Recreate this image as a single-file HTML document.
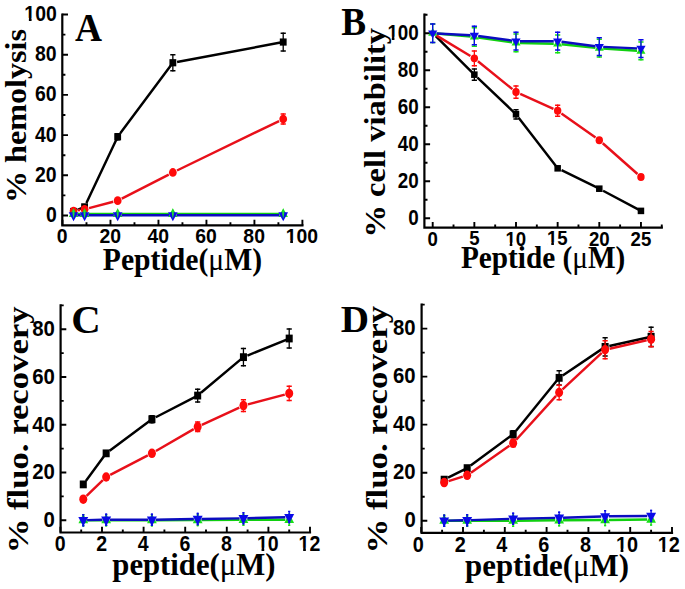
<!DOCTYPE html><html><head><meta charset="utf-8"><style>html,body{margin:0;padding:0;background:#fff;}svg{display:block}</style></head><body>
<svg width="685" height="589" viewBox="0 0 685 589" font-family="'Liberation Sans', sans-serif" font-weight="bold">
<rect width="685" height="589" fill="#fff"/>
<path d="M62.3 14.5V225.4H302.4" fill="none" stroke="#000" stroke-width="2.2" stroke-linejoin="miter" stroke-linecap="square"/>
<path d="M62.3 215.5h5.7M62.3 175.3h5.7M62.3 135.1h5.7M62.3 94.9h5.7M62.3 54.7h5.7M62.3 14.5h5.7M62.3 195.4h3.1M62.3 155.2h3.1M62.3 115h3.1M62.3 74.8h3.1M62.3 34.6h3.1M62.5 225.4v-5.7M110.48 225.4v-5.7M158.46 225.4v-5.7M206.44 225.4v-5.7M254.42 225.4v-5.7M302.4 225.4v-5.7M86.49 225.4v-3.1M134.47 225.4v-3.1M182.45 225.4v-3.1M230.43 225.4v-3.1M278.41 225.4v-3.1" stroke="#000" stroke-width="1.9" fill="none"/>
<text transform="translate(45.9,222) scale(0.8950,1)" font-size="21.7">0</text>
<text transform="translate(35.02,181.8) scale(0.8950,1)" font-size="21.7">20</text>
<text transform="translate(35.02,141.6) scale(0.8950,1)" font-size="21.7">40</text>
<text transform="translate(35.02,101.4) scale(0.8950,1)" font-size="21.7">60</text>
<text transform="translate(35.02,61.2) scale(0.8950,1)" font-size="21.7">80</text>
<text transform="translate(24.34,21) scale(0.8950,1)" font-size="21.7">100</text>
<g transform="translate(24.34,21) scale(0.8950,1)" fill="#fff"><rect x="0.37" y="-3.11" width="4.70" height="4.11"/><rect x="8.09" y="-3.11" width="4.42" height="4.11"/></g>
<text transform="translate(56.76,243.37) scale(0.9200,1)" font-size="21.1">0</text>
<text transform="translate(99.41,243.37) scale(0.9200,1)" font-size="21.1">20</text>
<text transform="translate(147.58,243.37) scale(0.9200,1)" font-size="21.1">40</text>
<text transform="translate(195.27,243.37) scale(0.9200,1)" font-size="21.1">60</text>
<text transform="translate(243.35,243.37) scale(0.9200,1)" font-size="21.1">80</text>
<text transform="translate(285.7,243.37) scale(0.9200,1)" font-size="21.1">100</text>
<g transform="translate(285.7,243.37) scale(0.9200,1)" fill="#fff"><rect x="0.33" y="-3.05" width="4.60" height="4.05"/><rect x="7.87" y="-3.05" width="4.33" height="4.05"/></g>
<path d="M77.5 209.82L84.57 206.86M86.41 202.97L117.68 136.71M120.25 133.26L172.85 62.74M177.08 61.95L283.21 42.04" fill="none" stroke="#000000" stroke-width="2.45" stroke-linecap="butt"/>
<path d="M73.54 209.78V213.19M84.57 204.15V209.57M117.68 132.99V140.42M172.85 54V71.48M283.21 32.49V51.58" stroke="#000000" stroke-width="1.3" fill="none"/>
<path d="M70.94 210.47h5.2M70.94 212.49h5.2M81.97 204.85h5.2M81.97 208.87h5.2M115.08 133.69h5.2M115.08 139.72h5.2M170.25 54.7h5.2M170.25 70.78h5.2M280.61 33.19h5.2M280.61 50.88h5.2" stroke="#000000" stroke-width="1.5" fill="none"/>
<rect x="70.12" y="207.89" width="6.83" height="7.18" fill="#000000"/>
<rect x="81.16" y="203.27" width="6.83" height="7.18" fill="#000000"/>
<rect x="114.26" y="133.12" width="6.83" height="7.18" fill="#000000"/>
<rect x="169.44" y="59.15" width="6.83" height="7.18" fill="#000000"/>
<rect x="279.8" y="38.45" width="6.83" height="7.18" fill="#000000"/>
<path d="M78.07 210.33L80.03 210.01M89.02 208.11L113.23 201.79M121.77 198.54L168.76 174.58M176.99 170.48L279.07 121.03" fill="none" stroke="#e8101a" stroke-width="2.45" stroke-linecap="butt"/>
<path d="M73.54 209.37V212.78M84.57 207.56V210.97M117.68 198.92V202.33M172.85 170.18V174.79M283.21 113.3V124.75" stroke="#ff0a0a" stroke-width="1.3" fill="none"/>
<path d="M70.94 210.07h5.2M70.94 212.08h5.2M81.97 208.26h5.2M81.97 210.27h5.2M115.08 199.62h5.2M115.08 201.63h5.2M170.25 170.88h5.2M170.25 174.09h5.2M280.61 114h5.2M280.61 124.05h5.2" stroke="#ff0a0a" stroke-width="1.5" fill="none"/>
<ellipse cx="73.54" cy="211.08" rx="3.89" ry="4.37" fill="#ff0a0a"/>
<ellipse cx="84.57" cy="209.27" rx="3.89" ry="4.37" fill="#ff0a0a"/>
<ellipse cx="117.68" cy="200.63" rx="3.89" ry="4.37" fill="#ff0a0a"/>
<ellipse cx="172.85" cy="172.49" rx="3.89" ry="4.37" fill="#ff0a0a"/>
<ellipse cx="283.21" cy="119.02" rx="3.89" ry="4.37" fill="#ff0a0a"/>
<path d="M77.44 213.99L80.67 213.99M88.47 213.99L113.78 213.99M121.58 213.99L168.95 213.99M176.75 213.99L279.31 213.99" fill="none" stroke="#10d010" stroke-width="2.45" stroke-linecap="butt"/>
<path d="M68.81 216.9H78.26L73.54 208.17Z" fill="#18e018"/>
<path d="M79.85 216.9H89.3L84.57 208.17Z" fill="#18e018"/>
<path d="M112.95 216.9H122.4L117.68 208.17Z" fill="#18e018"/>
<path d="M168.13 216.9H177.58L172.85 208.17Z" fill="#18e018"/>
<path d="M278.48 216.9H287.93L283.21 208.17Z" fill="#18e018"/>
<path d="M77.44 215.3L80.67 215.3M88.47 215.3L113.78 215.3M121.58 215.3L168.95 215.3M176.75 215.3L279.31 215.3" fill="none" stroke="#0c0cc0" stroke-width="2.45" stroke-linecap="butt"/>
<path d="M73.54 214V216.6M84.57 214V216.6M117.68 214V216.6M172.85 214V216.6M283.21 214V216.6" stroke="#0a0ae8" stroke-width="1.3" fill="none"/>
<path d="M72.54 214.7h2M72.54 215.9h2M83.57 214.7h2M83.57 215.9h2M116.68 214.7h2M116.68 215.9h2M171.85 214.7h2M171.85 215.9h2M282.21 214.7h2M282.21 215.9h2" stroke="#0a0ae8" stroke-width="1.5" fill="none"/>
<path d="M68.71 212.35H78.37L73.54 221.19Z" fill="#0a0ae8"/>
<path d="M79.74 212.35H89.4L84.57 221.19Z" fill="#0a0ae8"/>
<path d="M112.85 212.35H122.51L117.68 221.19Z" fill="#0a0ae8"/>
<path d="M168.02 212.35H177.68L172.85 221.19Z" fill="#0a0ae8"/>
<path d="M278.38 212.35H288.04L283.21 221.19Z" fill="#0a0ae8"/>
<path d="M73.54 208.3L74.59 213.8L73.54 218.8L72.49 213.8ZM84.57 208.3L85.62 213.8L84.57 218.8L83.52 213.8ZM117.68 208.3L118.73 213.8L117.68 218.8L116.63 213.8ZM172.85 208.3L173.9 213.8L172.85 218.8L171.8 213.8ZM283.21 208.3L284.26 213.8L283.21 218.8L282.16 213.8Z" fill="#22dd33"/>
<text transform="translate(74.93,40.7) scale(0.9584,1)" font-family='"Liberation Serif", serif' font-weight="bold" font-size="39.09" fill="#000">A</text>
<text transform="translate(26.3,203.12) rotate(-90) scale(1.0825,1)" font-family='"Liberation Serif", serif' font-weight="bold" font-size="29.7" fill="#000">% hemolysis</text>
<text transform="translate(102.81,269.6) scale(0.9186,1)" font-family='"Liberation Serif", serif' font-weight="bold" font-size="32.31">Peptide(<tspan font-weight="normal">μ</tspan>M)</text>
<path d="M424.4 14.69V227.7H661.77" fill="none" stroke="#000" stroke-width="2.2" stroke-linejoin="miter" stroke-linecap="square"/>
<path d="M424.4 218.3h5.7M424.4 181.28h5.7M424.4 144.26h5.7M424.4 107.24h5.7M424.4 70.22h5.7M424.4 33.2h5.7M424.4 199.79h3.1M424.4 162.77h3.1M424.4 125.75h3.1M424.4 88.73h3.1M424.4 51.71h3.1M424.4 14.69h3.1M432.7 227.7v-5.7M474.35 227.7v-5.7M516 227.7v-5.7M557.65 227.7v-5.7M599.3 227.7v-5.7M640.95 227.7v-5.7M453.52 227.7v-3.1M495.18 227.7v-3.1M536.83 227.7v-3.1M578.48 227.7v-3.1M620.12 227.7v-3.1M661.77 227.7v-3.1" stroke="#000" stroke-width="1.9" fill="none"/>
<text transform="translate(408.31,224.97) scale(0.8600,1)" font-size="21.9">0</text>
<text transform="translate(397.76,187.95) scale(0.8600,1)" font-size="21.9">20</text>
<text transform="translate(397.76,150.93) scale(0.8600,1)" font-size="21.9">40</text>
<text transform="translate(397.76,113.91) scale(0.8600,1)" font-size="21.9">60</text>
<text transform="translate(397.76,76.89) scale(0.8600,1)" font-size="21.9">80</text>
<text transform="translate(387.4,39.87) scale(0.8600,1)" font-size="21.9">100</text>
<g transform="translate(387.4,39.87) scale(0.8600,1)" fill="#fff"><rect x="0.38" y="-3.13" width="4.73" height="4.13"/><rect x="8.17" y="-3.13" width="4.45" height="4.13"/></g>
<text transform="translate(427.48,245.59) scale(0.9000,1)" font-size="20.7">0</text>
<text transform="translate(469.13,245.38) scale(0.9000,1)" font-size="20.7">5</text>
<text transform="translate(505.38,245.59) scale(0.9000,1)" font-size="20.7">10</text>
<g transform="translate(505.38,245.59) scale(0.9000,1)" fill="#fff"><rect x="0.30" y="-3.01" width="4.53" height="4.01"/><rect x="7.72" y="-3.01" width="4.26" height="4.01"/></g>
<text transform="translate(546.94,245.38) scale(0.9000,1)" font-size="20.7">15</text>
<g transform="translate(546.94,245.38) scale(0.9000,1)" fill="#fff"><rect x="0.30" y="-3.01" width="4.53" height="4.01"/><rect x="7.72" y="-3.01" width="4.26" height="4.01"/></g>
<text transform="translate(588.96,245.59) scale(0.9000,1)" font-size="20.7">20</text>
<text transform="translate(630.52,245.59) scale(0.9000,1)" font-size="20.7">25</text>
<path d="M435.75 36.23L474.35 74.66M477.47 77.63L516 114.27M518.62 117.68L557.65 168.32M561.51 170.21L599.3 188.68M603.09 190.71L640.95 210.9" fill="none" stroke="#000000" stroke-width="2.45" stroke-linecap="butt"/>
<path d="M474.35 68.41V80.92M516 108.95V119.6M557.65 165.77V170.87M599.3 186.13V191.24M640.95 208.35V213.45" stroke="#000000" stroke-width="1.3" fill="none"/>
<path d="M471.75 69.11h5.2M471.75 80.22h5.2M513.4 109.65h5.2M513.4 118.9h5.2M555.05 166.47h5.2M555.05 170.17h5.2M596.7 186.83h5.2M596.7 190.54h5.2M638.35 209.05h5.2M638.35 212.75h5.2" stroke="#000000" stroke-width="1.5" fill="none"/>
<rect x="471.1" y="71.38" width="6.5" height="6.55" fill="#000000"/>
<rect x="512.75" y="111" width="6.5" height="6.55" fill="#000000"/>
<rect x="554.4" y="165.05" width="6.5" height="6.55" fill="#000000"/>
<rect x="596.05" y="185.41" width="6.5" height="6.55" fill="#000000"/>
<rect x="637.7" y="207.62" width="6.5" height="6.55" fill="#000000"/>
<path d="M436.64 35.58L470.41 55.99M477.93 61.27L512.42 89.17M520.2 93.95L553.45 108.87M561.41 113.41L595.54 137.53M602.75 143.24L637.5 173.98" fill="none" stroke="#e8101a" stroke-width="2.45" stroke-linecap="butt"/>
<path d="M474.35 50.27V66.48M516 85.25V98.87M557.65 104.5V117.01M599.3 137.64V142.74M640.95 174.47V179.57" stroke="#ff0a0a" stroke-width="1.3" fill="none"/>
<path d="M471.75 50.97h5.2M471.75 65.78h5.2M513.4 85.95h5.2M513.4 98.17h5.2M555.05 105.2h5.2M555.05 116.31h5.2M596.7 138.34h5.2M596.7 142.04h5.2M638.35 175.17h5.2M638.35 178.87h5.2" stroke="#ff0a0a" stroke-width="1.5" fill="none"/>
<ellipse cx="474.35" cy="58.37" rx="3.7" ry="3.99" fill="#ff0a0a"/>
<ellipse cx="516" cy="92.06" rx="3.7" ry="3.99" fill="#ff0a0a"/>
<ellipse cx="557.65" cy="110.76" rx="3.7" ry="3.99" fill="#ff0a0a"/>
<ellipse cx="599.3" cy="140.19" rx="3.7" ry="3.99" fill="#ff0a0a"/>
<ellipse cx="640.95" cy="177.02" rx="3.7" ry="3.99" fill="#ff0a0a"/>
<path d="M436.58 33.55L470.47 36.56M478.21 37.45L512.14 42.28M519.9 42.93L553.75 43.83M561.53 44.33L595.42 47.8M603.19 48.45L637.06 50.71" fill="none" stroke="#10d010" stroke-width="2.45" stroke-linecap="butt"/>
<path d="M432.7 23.25V43.16M474.35 26.95V46.86M516 33.24V52.41M557.65 34.35V53.52M599.3 38.61V57.78M640.95 41.38V60.55" stroke="#18e018" stroke-width="1.3" fill="none"/>
<path d="M430.1 23.95h5.2M430.1 42.46h5.2M471.75 27.65h5.2M471.75 46.16h5.2M513.4 33.94h5.2M513.4 51.71h5.2M555.05 35.05h5.2M555.05 52.82h5.2M596.7 39.31h5.2M596.7 57.08h5.2M638.35 42.08h5.2M638.35 59.85h5.2" stroke="#18e018" stroke-width="1.5" fill="none"/>
<path d="M428.2 35.86H437.2L432.7 27.88Z" fill="#18e018"/>
<path d="M469.85 39.56H478.85L474.35 31.58Z" fill="#18e018"/>
<path d="M511.5 45.49H520.5L516 37.51Z" fill="#18e018"/>
<path d="M553.15 46.6H562.15L557.65 38.62Z" fill="#18e018"/>
<path d="M594.8 50.85H603.8L599.3 42.87Z" fill="#18e018"/>
<path d="M636.45 53.63H645.45L640.95 45.65Z" fill="#18e018"/>
<path d="M436.59 33.41L470.46 35.21M478.21 35.95L512.14 40.63M519.9 41.16L553.75 41.16M561.52 41.67L595.43 46.2M603.2 46.89L637.05 48.39" fill="none" stroke="#0c0cc0" stroke-width="2.45" stroke-linecap="butt"/>
<path d="M432.7 23.25V43.16M474.35 25.47V45.38M516 31.57V50.74M557.65 31.57V50.74M599.3 37.13V56.3M640.95 38.98V58.15" stroke="#0a0ae8" stroke-width="1.3" fill="none"/>
<path d="M430.1 23.95h5.2M430.1 42.46h5.2M471.75 26.17h5.2M471.75 44.68h5.2M513.4 32.27h5.2M513.4 50.04h5.2M555.05 32.27h5.2M555.05 50.04h5.2M596.7 37.83h5.2M596.7 55.6h5.2M638.35 39.68h5.2M638.35 57.45h5.2" stroke="#0a0ae8" stroke-width="1.5" fill="none"/>
<path d="M428.1 30.51H437.3L432.7 38.58Z" fill="#0a0ae8"/>
<path d="M469.75 32.73H478.95L474.35 40.8Z" fill="#0a0ae8"/>
<path d="M511.4 38.47H520.6L516 46.54Z" fill="#0a0ae8"/>
<path d="M553.05 38.47H562.25L557.65 46.54Z" fill="#0a0ae8"/>
<path d="M594.7 44.02H603.9L599.3 52.1Z" fill="#0a0ae8"/>
<path d="M636.35 45.87H645.55L640.95 53.95Z" fill="#0a0ae8"/>
<text transform="translate(341.35,34.6) scale(0.9497,1)" font-family='"Liberation Serif", serif' font-weight="bold" font-size="39.23" fill="#000">B</text>
<text transform="translate(384.9,237.55) rotate(-90) scale(1.1300,1)" font-family='"Liberation Serif", serif' font-weight="bold" font-size="28.8" fill="#000">% cell viability</text>
<text transform="translate(460.91,267.8) scale(0.9194,1)" font-family='"Liberation Serif", serif' font-weight="bold" font-size="31.85">Peptide (<tspan font-weight="normal">μ</tspan>M)</text>
<path d="M60.6 305.33V532.5H310" fill="none" stroke="#000" stroke-width="2.2" stroke-linejoin="miter" stroke-linecap="square"/>
<path d="M60.6 520.2h5.7M60.6 472.45h5.7M60.6 424.7h5.7M60.6 376.95h5.7M60.6 329.2h5.7M60.6 496.33h3.1M60.6 448.58h3.1M60.6 400.83h3.1M60.6 353.08h3.1M60.6 305.33h3.1M60.4 532.5v-5.7M102 532.5v-5.7M143.6 532.5v-5.7M185.2 532.5v-5.7M226.8 532.5v-5.7M268.4 532.5v-5.7M310 532.5v-5.7M81.2 532.5v-3.1M122.8 532.5v-3.1M164.4 532.5v-3.1M206 532.5v-3.1M247.6 532.5v-3.1M289.2 532.5v-3.1" stroke="#000" stroke-width="1.9" fill="none"/>
<text transform="translate(43.6,527.01) scale(0.8900,1)" font-size="22.9">0</text>
<text transform="translate(32.19,479.27) scale(0.8900,1)" font-size="22.9">20</text>
<text transform="translate(32.19,431.52) scale(0.8900,1)" font-size="22.9">40</text>
<text transform="translate(32.19,383.77) scale(0.8900,1)" font-size="22.9">60</text>
<text transform="translate(32.19,336.02) scale(0.8900,1)" font-size="22.9">80</text>
<text transform="translate(54.63,550.79) scale(0.9000,1)" font-size="21.7">0</text>
<text transform="translate(96.33,550.79) scale(0.9000,1)" font-size="21.7">2</text>
<text transform="translate(137.83,550.57) scale(0.9000,1)" font-size="21.7">4</text>
<text transform="translate(179.43,550.79) scale(0.9000,1)" font-size="21.7">6</text>
<text transform="translate(221.03,550.79) scale(0.9000,1)" font-size="21.7">8</text>
<text transform="translate(256.97,550.79) scale(0.9000,1)" font-size="21.7">10</text>
<g transform="translate(256.97,550.79) scale(0.9000,1)" fill="#fff"><rect x="0.37" y="-3.11" width="4.70" height="4.11"/><rect x="8.09" y="-3.11" width="4.42" height="4.11"/></g>
<text transform="translate(298.57,550.79) scale(0.9000,1)" font-size="21.7">12</text>
<g transform="translate(298.57,550.79) scale(0.9000,1)" fill="#fff"><rect x="0.37" y="-3.11" width="4.70" height="4.11"/><rect x="8.09" y="-3.11" width="4.42" height="4.11"/></g>
<path d="M85.83 480.93L106.16 453.35M109.61 450.78L151.92 419.21M155.74 417.24L197.68 395.57M200.97 392.81L243.44 357.13M247.42 355.51L289.2 338.51" fill="none" stroke="#000000" stroke-width="2.45" stroke-linecap="butt"/>
<path d="M83.28 482.26V486.52M106.16 451.22V455.48M151.92 414.93V423.49M197.68 388.43V402.72M243.44 347.84V366.43M289.2 328.26V348.76" stroke="#000000" stroke-width="1.3" fill="none"/>
<path d="M80.68 482.96h5.2M80.68 485.82h5.2M103.56 451.92h5.2M103.56 454.78h5.2M149.32 415.63h5.2M149.32 422.79h5.2M195.08 389.13h5.2M195.08 402.02h5.2M240.84 348.54h5.2M240.84 365.73h5.2M286.6 328.96h5.2M286.6 348.06h5.2" stroke="#000000" stroke-width="1.5" fill="none"/>
<rect x="79.77" y="480.49" width="7.02" height="7.8" fill="#000000"/>
<rect x="102.65" y="449.45" width="7.02" height="7.8" fill="#000000"/>
<rect x="148.41" y="415.31" width="7.02" height="7.8" fill="#000000"/>
<rect x="194.17" y="391.67" width="7.02" height="7.8" fill="#000000"/>
<rect x="239.93" y="353.24" width="7.02" height="7.8" fill="#000000"/>
<rect x="285.69" y="334.61" width="7.02" height="7.8" fill="#000000"/>
<path d="M86.58 495.99L102.86 480.19M110.25 474.88L147.83 455.46M155.9 451.04L193.7 429.15M201.85 424.91L239.27 407.54M247.89 404.42L284.75 394.61" fill="none" stroke="#e8101a" stroke-width="2.45" stroke-linecap="butt"/>
<path d="M83.28 497.3V501.08M106.16 475.09V478.88M151.92 451.22V455.48M197.68 421.37V432.32M243.44 398.93V412.27M289.2 385.56V401.29" stroke="#ff0a0a" stroke-width="1.3" fill="none"/>
<path d="M80.68 498h5.2M80.68 500.38h5.2M103.56 475.79h5.2M103.56 478.18h5.2M149.32 451.92h5.2M149.32 454.78h5.2M195.08 422.07h5.2M195.08 431.62h5.2M240.84 399.63h5.2M240.84 411.57h5.2M286.6 386.26h5.2M286.6 400.59h5.2" stroke="#ff0a0a" stroke-width="1.5" fill="none"/>
<ellipse cx="83.28" cy="499.19" rx="4" ry="4.75" fill="#ff0a0a"/>
<ellipse cx="106.16" cy="476.99" rx="4" ry="4.75" fill="#ff0a0a"/>
<ellipse cx="151.92" cy="453.35" rx="4" ry="4.75" fill="#ff0a0a"/>
<ellipse cx="197.68" cy="426.85" rx="4" ry="4.75" fill="#ff0a0a"/>
<ellipse cx="243.44" cy="405.6" rx="4" ry="4.75" fill="#ff0a0a"/>
<ellipse cx="289.2" cy="393.42" rx="4" ry="4.75" fill="#ff0a0a"/>
<path d="M87.18 520.2L102.26 520.2M110.06 520.2L148.02 520.2M155.82 520.18L193.78 519.98M201.58 519.94L239.54 519.74M247.34 519.72L285.3 519.72" fill="none" stroke="#10d010" stroke-width="2.45" stroke-linecap="butt"/>
<path d="M83.28 514.01V526.39M106.16 514.01V526.39M151.92 514.01V526.39M197.68 513.77V526.15M243.44 513.53V525.91M289.2 513.53V525.91" stroke="#18e018" stroke-width="1.3" fill="none"/>
<path d="M82.18 514.71h2.2M82.18 525.69h2.2M105.06 514.71h2.2M105.06 525.69h2.2M150.82 514.71h2.2M150.82 525.69h2.2M196.58 514.47h2.2M196.58 525.45h2.2M242.34 514.23h2.2M242.34 525.21h2.2M288.1 514.23h2.2M288.1 525.21h2.2" stroke="#18e018" stroke-width="1.5" fill="none"/>
<path d="M78.42 523.36H88.14L83.28 513.87Z" fill="#18e018"/>
<path d="M101.3 523.36H111.02L106.16 513.87Z" fill="#18e018"/>
<path d="M147.06 523.36H156.78L151.92 513.87Z" fill="#18e018"/>
<path d="M192.82 523.13H202.54L197.68 513.63Z" fill="#18e018"/>
<path d="M238.58 522.89H248.3L243.44 513.39Z" fill="#18e018"/>
<path d="M284.34 522.89H294.06L289.2 513.39Z" fill="#18e018"/>
<path d="M87.18 520.12L102.26 519.8M110.06 519.72L148.02 519.72M155.82 519.66L193.78 519.07M201.58 518.95L239.54 518.35M247.34 518.19L285.3 517.2" fill="none" stroke="#0c0cc0" stroke-width="2.45" stroke-linecap="butt"/>
<path d="M83.28 514.01V526.39M106.16 513.53V525.91M151.92 513.53V525.91M197.68 512.82V525.2M243.44 512.1V524.48M289.2 510.91V523.29" stroke="#0a0ae8" stroke-width="1.3" fill="none"/>
<path d="M82.18 514.71h2.2M82.18 525.69h2.2M105.06 514.23h2.2M105.06 525.21h2.2M150.82 514.23h2.2M150.82 525.21h2.2M196.58 513.52h2.2M196.58 524.5h2.2M242.34 512.8h2.2M242.34 523.78h2.2M288.1 511.61h2.2M288.1 522.59h2.2" stroke="#0a0ae8" stroke-width="1.5" fill="none"/>
<path d="M78.31 517H88.25L83.28 526.6Z" fill="#0a0ae8"/>
<path d="M101.19 516.52H111.13L106.16 526.13Z" fill="#0a0ae8"/>
<path d="M146.95 516.52H156.89L151.92 526.13Z" fill="#0a0ae8"/>
<path d="M192.71 515.8H202.65L197.68 525.41Z" fill="#0a0ae8"/>
<path d="M238.47 515.09H248.41L243.44 524.69Z" fill="#0a0ae8"/>
<path d="M284.23 513.89H294.17L289.2 523.5Z" fill="#0a0ae8"/>
<text transform="translate(71.16,333) scale(1.0019,1)" font-family='"Liberation Serif", serif' font-weight="bold" font-size="40.76" fill="#000">C</text>
<text transform="translate(28.4,553.37) rotate(-90) scale(1.1497,1)" font-family='"Liberation Serif", serif' font-weight="bold" font-size="30.2" fill="#000">% fluo. recovery</text>
<text transform="translate(112.29,574.9) scale(0.9469,1)" font-family='"Liberation Serif", serif' font-weight="bold" font-size="32.46">peptide(<tspan font-weight="normal">μ</tspan>M)</text>
<path d="M421.6 304.61V532.8H672" fill="none" stroke="#000" stroke-width="2.2" stroke-linejoin="miter" stroke-linecap="square"/>
<path d="M421.6 520.7h5.7M421.6 472.68h5.7M421.6 424.66h5.7M421.6 376.64h5.7M421.6 328.62h5.7M421.6 496.69h3.1M421.6 448.67h3.1M421.6 400.65h3.1M421.6 352.63h3.1M421.6 304.61h3.1M421.2 532.8v-5.7M463 532.8v-5.7M504.8 532.8v-5.7M546.6 532.8v-5.7M588.4 532.8v-5.7M630.2 532.8v-5.7M672 532.8v-5.7M442.1 532.8v-3.1M483.9 532.8v-3.1M525.7 532.8v-3.1M567.5 532.8v-3.1M609.3 532.8v-3.1M651.1 532.8v-3.1" stroke="#000" stroke-width="1.9" fill="none"/>
<text transform="translate(404.42,527.41) scale(0.9000,1)" font-size="22.6">0</text>
<text transform="translate(393.03,479.39) scale(0.9000,1)" font-size="22.6">20</text>
<text transform="translate(393.03,431.37) scale(0.9000,1)" font-size="22.6">40</text>
<text transform="translate(393.03,383.35) scale(0.9000,1)" font-size="22.6">60</text>
<text transform="translate(393.03,335.33) scale(0.9000,1)" font-size="22.6">80</text>
<text transform="translate(412.73,551.92) scale(0.8800,1)" font-size="22.6">0</text>
<text transform="translate(454.63,551.92) scale(0.8800,1)" font-size="22.6">2</text>
<text transform="translate(496.33,551.69) scale(0.8800,1)" font-size="22.6">4</text>
<text transform="translate(538.13,551.92) scale(0.8800,1)" font-size="22.6">6</text>
<text transform="translate(579.93,551.92) scale(0.8800,1)" font-size="22.6">8</text>
<text transform="translate(615.96,551.92) scale(0.8800,1)" font-size="22.6">10</text>
<g transform="translate(615.96,551.92) scale(0.8800,1)" fill="#fff"><rect x="0.42" y="-3.21" width="4.85" height="4.21"/><rect x="8.43" y="-3.21" width="4.56" height="4.21"/></g>
<text transform="translate(657.76,551.92) scale(0.8800,1)" font-size="22.6">12</text>
<g transform="translate(657.76,551.92) scale(0.8800,1)" fill="#fff"><rect x="0.42" y="-3.21" width="4.85" height="4.21"/><rect x="8.43" y="-3.21" width="4.56" height="4.21"/></g>
<path d="M448.03 477.72L467.18 468.12M470.64 465.57L513.16 434.26M515.88 430.93L559.14 377.84M562.71 375.44L605.12 346.87M609.32 345.95L651.1 336.78" fill="none" stroke="#000000" stroke-width="2.45" stroke-linecap="butt"/>
<path d="M444.19 476.54V482.74M467.18 465.02V471.22M513.16 429.96V438.57M559.14 369.94V385.74M605.12 337.04V356.69M651.1 326.48V347.09" stroke="#000000" stroke-width="1.3" fill="none"/>
<path d="M441.59 477.24h5.2M441.59 482.04h5.2M464.58 465.72h5.2M464.58 470.52h5.2M510.56 430.66h5.2M510.56 437.87h5.2M556.54 370.64h5.2M556.54 385.04h5.2M602.52 337.74h5.2M602.52 355.99h5.2M648.5 327.18h5.2M648.5 346.39h5.2" stroke="#000000" stroke-width="1.5" fill="none"/>
<rect x="440.68" y="475.74" width="7.02" height="7.8" fill="#000000"/>
<rect x="463.67" y="464.22" width="7.02" height="7.8" fill="#000000"/>
<rect x="509.65" y="430.37" width="7.02" height="7.8" fill="#000000"/>
<rect x="555.63" y="373.94" width="7.02" height="7.8" fill="#000000"/>
<rect x="601.61" y="342.97" width="7.02" height="7.8" fill="#000000"/>
<rect x="647.59" y="332.88" width="7.02" height="7.8" fill="#000000"/>
<path d="M448.58 481.15L462.79 476.7M470.95 472.68L509.39 445.78M516.25 439.74L556.05 395.89M562.51 389.35L601.75 352.88M609.6 348.72L646.62 340.21" fill="none" stroke="#e8101a" stroke-width="2.45" stroke-linecap="butt"/>
<path d="M444.19 479.42V485.63M467.18 472.22V478.42M513.16 438.85V447.45M559.14 384.58V400.39M605.12 339.93V359.57M651.1 330.8V347.57" stroke="#ff0a0a" stroke-width="1.3" fill="none"/>
<path d="M441.59 480.12h5.2M441.59 484.93h5.2M464.58 472.92h5.2M464.58 477.72h5.2M510.56 439.55h5.2M510.56 446.75h5.2M556.54 385.28h5.2M556.54 399.69h5.2M602.52 340.63h5.2M602.52 358.87h5.2M648.5 331.5h5.2M648.5 346.87h5.2" stroke="#ff0a0a" stroke-width="1.5" fill="none"/>
<ellipse cx="444.19" cy="482.52" rx="4" ry="4.75" fill="#ff0a0a"/>
<ellipse cx="467.18" cy="475.32" rx="4" ry="4.75" fill="#ff0a0a"/>
<ellipse cx="513.16" cy="443.15" rx="4" ry="4.75" fill="#ff0a0a"/>
<ellipse cx="559.14" cy="392.49" rx="4" ry="4.75" fill="#ff0a0a"/>
<ellipse cx="605.12" cy="349.75" rx="4" ry="4.75" fill="#ff0a0a"/>
<ellipse cx="651.1" cy="339.18" rx="4" ry="4.75" fill="#ff0a0a"/>
<path d="M448.09 520.7L463.28 520.7M471.08 520.7L509.26 520.7M517.06 520.66L555.24 520.26M563.04 520.2L601.22 520M609.02 519.94L647.2 519.54" fill="none" stroke="#10d010" stroke-width="2.45" stroke-linecap="butt"/>
<path d="M444.19 514.48V526.92M467.18 514.48V526.92M513.16 514.48V526.92M559.14 514V526.44M605.12 513.76V526.2M651.1 513.28V525.72" stroke="#18e018" stroke-width="1.3" fill="none"/>
<path d="M443.09 515.18h2.2M443.09 526.22h2.2M466.08 515.18h2.2M466.08 526.22h2.2M512.06 515.18h2.2M512.06 526.22h2.2M558.04 514.7h2.2M558.04 525.74h2.2M604.02 514.46h2.2M604.02 525.5h2.2M650 513.98h2.2M650 525.02h2.2" stroke="#18e018" stroke-width="1.5" fill="none"/>
<path d="M439.33 523.86H449.05L444.19 514.37Z" fill="#18e018"/>
<path d="M462.32 523.86H472.04L467.18 514.37Z" fill="#18e018"/>
<path d="M508.3 523.86H518.02L513.16 514.37Z" fill="#18e018"/>
<path d="M554.28 523.38H564L559.14 513.89Z" fill="#18e018"/>
<path d="M600.26 523.14H609.98L605.12 513.65Z" fill="#18e018"/>
<path d="M646.24 522.66H655.96L651.1 513.17Z" fill="#18e018"/>
<path d="M448.09 520.62L463.28 520.3M471.08 520.1L509.26 518.9M517.06 518.7L555.24 517.9M563.04 517.7L601.22 516.5M609.02 516.34L647.2 515.94" fill="none" stroke="#0c0cc0" stroke-width="2.45" stroke-linecap="butt"/>
<path d="M444.19 514.48V526.92M467.18 514V526.44M513.16 512.56V525M559.14 511.6V524.04M605.12 510.16V522.6M651.1 509.68V522.12" stroke="#0a0ae8" stroke-width="1.3" fill="none"/>
<path d="M443.09 515.18h2.2M443.09 526.22h2.2M466.08 514.7h2.2M466.08 525.74h2.2M512.06 513.26h2.2M512.06 524.3h2.2M558.04 512.3h2.2M558.04 523.34h2.2M604.02 510.86h2.2M604.02 521.9h2.2M650 510.38h2.2M650 521.42h2.2" stroke="#0a0ae8" stroke-width="1.5" fill="none"/>
<path d="M439.22 517.5H449.16L444.19 527.1Z" fill="#0a0ae8"/>
<path d="M462.21 517.02H472.15L467.18 526.62Z" fill="#0a0ae8"/>
<path d="M508.19 515.58H518.13L513.16 525.18Z" fill="#0a0ae8"/>
<path d="M554.17 514.62H564.11L559.14 524.22Z" fill="#0a0ae8"/>
<path d="M600.15 513.18H610.09L605.12 522.78Z" fill="#0a0ae8"/>
<path d="M646.13 512.7H656.07L651.1 522.3Z" fill="#0a0ae8"/>
<text transform="translate(340.72,332.2) scale(1.0282,1)" font-family='"Liberation Serif", serif' font-weight="bold" font-size="38.15" fill="#000">D</text>
<text transform="translate(386.9,553.58) rotate(-90) scale(1.1526,1)" font-family='"Liberation Serif", serif' font-weight="bold" font-size="30.2" fill="#000">% fluo. recovery</text>
<text transform="translate(465.09,575.8) scale(0.9505,1)" font-family='"Liberation Serif", serif' font-weight="bold" font-size="32.46">peptide(<tspan font-weight="normal">μ</tspan>M)</text>
</svg></body></html>
